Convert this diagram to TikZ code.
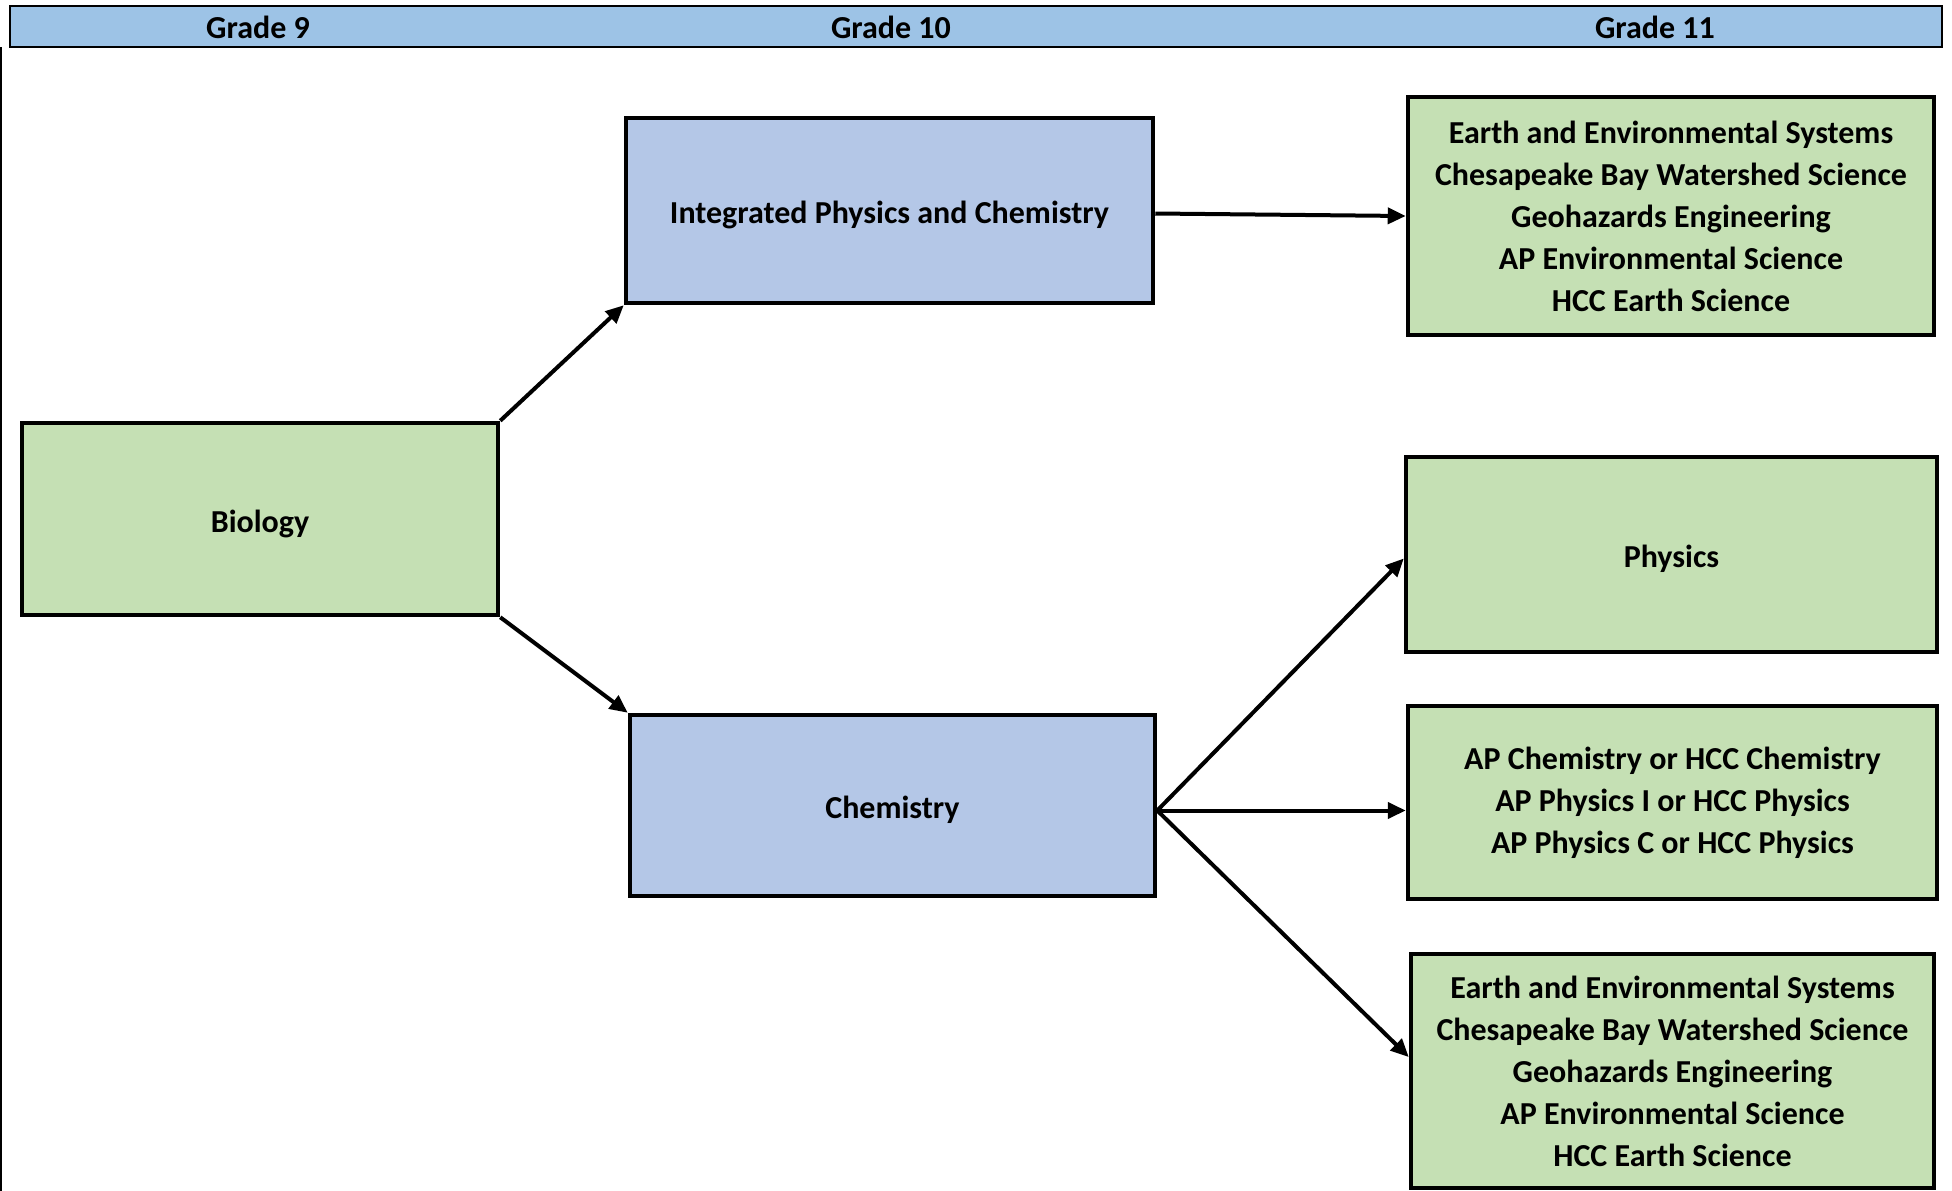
\documentclass[tikz,border=0pt]{standalone}
\usepackage{fontspec}
\setmainfont{Carlito}
\usetikzlibrary{arrows.meta}
\definecolor{headblue}{HTML}{9DC3E6}
\definecolor{boxblue}{HTML}{B4C7E7}
\definecolor{boxgreen}{HTML}{C5E0B4}
\begin{document}
\begin{tikzpicture}[x=1pt,y=-1pt,
    course/.style={draw=black,line width=4.5pt,align=center,inner sep=0pt,
        font=\fontsize{32}{42}\selectfont\bfseries},
    oneline/.style={text height=33pt,text depth=7pt},
    grade/.style={font=\fontsize{32}{36}\selectfont\bfseries},
    link/.style={line width=4pt,-{Triangle[length=18pt,width=16pt]}}]
    \useasboundingbox (0,0) rectangle (1952,1191);
    % Intestazione delle classi
    \draw[fill=headblue,line width=2pt] (10,6) rectangle (1942,47);
    \draw[line width=2pt] (1,47) -- (1,1191);
    \node[grade] (g9) at (258,27) {Grade 9};
    \node[grade] (g10) at (891,27) {Grade 10};
    \node[grade] (g11) at (1655,27) {Grade 11};
    % Corsi
    \node[course,oneline,fill=boxgreen,minimum width=476pt,minimum height=192pt] (bio) at (260,519) {Biology};
    \node[course,oneline,fill=boxblue,minimum width=527pt,minimum height=185pt] (ipc) at (889.5,210.5) {Integrated Physics and Chemistry};
    \node[course,oneline,fill=boxblue,minimum width=525pt,minimum height=181pt] (chem) at (892.5,805.5) {Chemistry};
    \node[course,fill=boxgreen,minimum width=526pt,minimum height=238pt] (eartha) at (1671,216)
        {Earth and Environmental Systems\\Chesapeake Bay Watershed Science\\Geohazards Engineering\\AP Environmental Science\\HCC Earth Science};
    \node[course,oneline,fill=boxgreen,minimum width=531pt,minimum height=195pt] (phys) at (1671.5,554.5) {Physics};
    \node[course,fill=boxgreen,minimum width=529pt,minimum height=193pt] (apchem) at (1672.5,802.5)
        {AP Chemistry or HCC Chemistry\\AP Physics I or HCC Physics\\AP Physics C or HCC Physics};
    \node[course,fill=boxgreen,minimum width=523pt,minimum height=234pt] (earthb) at (1672.5,1071)
        {Earth and Environmental Systems\\Chesapeake Bay Watershed Science\\Geohazards Engineering\\AP Environmental Science\\HCC Earth Science};
    % Frecce
    \draw[link] (bio.north east) -- (ipc.south west);
    \draw[link] (bio.south east) -- (chem.north west);
    \draw[link] ([yshift=-3pt]ipc.east) -- (eartha.west);
    \draw[link] ([yshift=-5pt]chem.east) -- ([yshift=-4pt]phys.west);
    \draw[link] ([yshift=-5pt]chem.east) -- ([yshift=-8pt]apchem.west);
    \draw[link] ([yshift=-5pt]chem.east) -- ([yshift=14pt]earthb.west);
\end{tikzpicture}
\end{document}
